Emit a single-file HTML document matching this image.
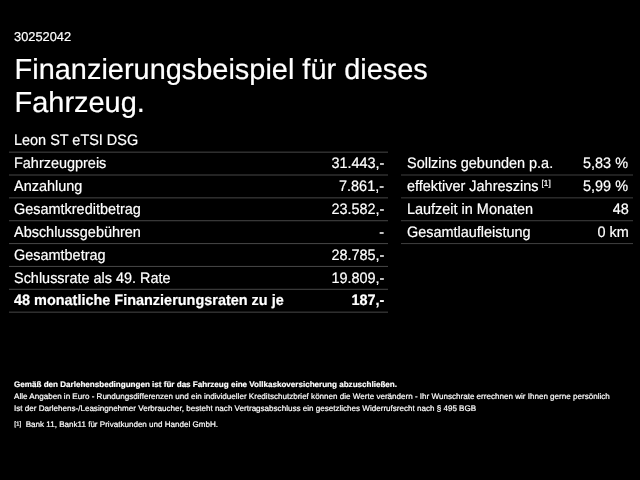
<!DOCTYPE html>
<html><head><meta charset="utf-8">
<style>
html,body{margin:0;padding:0;background:#000;}
body{text-rendering:geometricPrecision;width:640px;height:480px;overflow:hidden;position:relative;color:#fff;font-family:"Liberation Sans",sans-serif;}
.t{position:absolute;white-space:nowrap;-webkit-text-stroke:0.2px #fff;}
.r{text-align:right;}
.ln{position:absolute;height:1px;}
.row{font-size:15.1px;line-height:20px;transform:scaleX(0.9570);transform-origin:0 0;}
.row.r{transform-origin:100% 0;}
.b{font-weight:bold;}
.small{font-size:8.07px;line-height:10px;left:14.1px;}
sup{font-size:8.6px;line-height:0;vertical-align:baseline;position:relative;top:-5.2px;margin-left:3.3px;}
</style></head><body>
<div class="t" style="left:14.0px;top:29px;font-size:12.85px;line-height:16px;">30252042</div>
<div class="t" style="left:14.6px;top:53px;font-size:28.93px;line-height:34px;">Finanzierungsbeispiel für dieses</div>
<div class="t" style="left:14.6px;top:86px;font-size:28.93px;line-height:34px;">Fahrzeug.</div>
<div class="t row" style="left:14.1px;top:131px;">Leon ST eTSI DSG</div><div class="ln" style="left:9px;width:379px;top:151px;background:#191919"></div><div class="ln" style="left:9px;width:379px;top:152px;background:#2e2e2e"></div>
<div class="t row" style="left:14.1px;top:154px;">Fahrzeugpreis</div><div class="t row r" style="right:255.7px;top:154px;">31.443,-</div><div class="ln" style="left:9px;width:379px;top:174px;background:#232323"></div><div class="ln" style="left:9px;width:379px;top:175px;background:#242424"></div>
<div class="t row" style="left:14.1px;top:177px;">Anzahlung</div><div class="t row r" style="right:255.7px;top:177px;">7.861,-</div><div class="ln" style="left:9px;width:379px;top:197px;background:#2d2d2d"></div><div class="ln" style="left:9px;width:379px;top:198px;background:#1a1a1a"></div>
<div class="t row" style="left:14.1px;top:200px;">Gesamtkreditbetrag</div><div class="t row r" style="right:255.7px;top:200px;">23.582,-</div><div class="ln" style="left:9px;width:379px;top:220px;background:#373737"></div><div class="ln" style="left:9px;width:379px;top:221px;background:#101010"></div>
<div class="t row" style="left:14.1px;top:223px;">Abschlussgebühren</div><div class="t row r" style="right:255.7px;top:223px;">-</div><div class="ln" style="left:9px;width:379px;top:243px;background:#414141"></div><div class="ln" style="left:9px;width:379px;top:244px;background:#060606"></div>
<div class="t row" style="left:14.1px;top:246px;">Gesamtbetrag</div><div class="t row r" style="right:255.7px;top:246px;">28.785,-</div><div class="ln" style="left:9px;width:379px;top:265px;background:#050505"></div><div class="ln" style="left:9px;width:379px;top:266px;background:#424242"></div>
<div class="t row" style="left:14.1px;top:269px;">Schlussrate als 49. Rate</div><div class="t row r" style="right:255.7px;top:269px;">19.809,-</div><div class="ln" style="left:9px;width:379px;top:288px;background:#0f0f0f"></div><div class="ln" style="left:9px;width:379px;top:289px;background:#383838"></div>
<div class="t row b" style="left:14.1px;top:291px;">48 monatliche Finanzierungsraten zu je</div><div class="t row b r" style="right:255.7px;top:291px;">187,-</div><div class="ln" style="left:9px;width:379px;top:311px;background:#191919"></div><div class="ln" style="left:9px;width:379px;top:312px;background:#2e2e2e"></div>
<div class="t row" style="left:406.9px;top:154px;">Sollzins gebunden p.a.</div><div class="t row r" style="right:11.6px;top:154px;">5,83 %</div><div class="ln" style="left:401px;width:232px;top:174px;background:#202020"></div><div class="ln" style="left:401px;width:232px;top:175px;background:#202020"></div>
<div class="t row" style="left:406.9px;top:177px;">effektiver Jahreszins<sup>[1]</sup></div><div class="t row r" style="right:11.6px;top:177px;">5,99 %</div><div class="ln" style="left:401px;width:232px;top:197px;background:#292929"></div><div class="ln" style="left:401px;width:232px;top:198px;background:#171717"></div>
<div class="t row" style="left:406.9px;top:200px;">Laufzeit in Monaten</div><div class="t row r" style="right:11.6px;top:200px;">48</div><div class="ln" style="left:401px;width:232px;top:220px;background:#323232"></div><div class="ln" style="left:401px;width:232px;top:221px;background:#0e0e0e"></div>
<div class="t row" style="left:406.9px;top:223px;">Gesamtlaufleistung</div><div class="t row r" style="right:11.6px;top:223px;">0 km</div><div class="ln" style="left:401px;width:232px;top:243px;background:#3b3b3b"></div><div class="ln" style="left:401px;width:232px;top:244px;background:#050505"></div>
<div class="t small b" style="top:380px;">Gemäß den Darlehensbedingungen ist für das Fahrzeug eine Vollkaskoversicherung abzuschließen.</div>
<div class="t small" style="top:392px;">Alle Angaben in Euro - Rundungsdifferenzen und ein individueller Kreditschutzbrief können die Werte verändern - Ihr Wunschrate errechnen wir Ihnen gerne persönlich</div>
<div class="t small" style="top:404px;">Ist der Darlehens-/Leasingnehmer Verbraucher, besteht nach Vertragsabschluss ein gesetzliches Widerrufsrecht nach § 495 BGB</div>
<div class="t" style="left:14.2px;top:420px;font-size:6.5px;line-height:10px;">[1]</div><div class="t small" style="left:25.7px;top:420px;">Bank 11, Bank11 für Privatkunden und Handel GmbH.</div>
</body></html>
